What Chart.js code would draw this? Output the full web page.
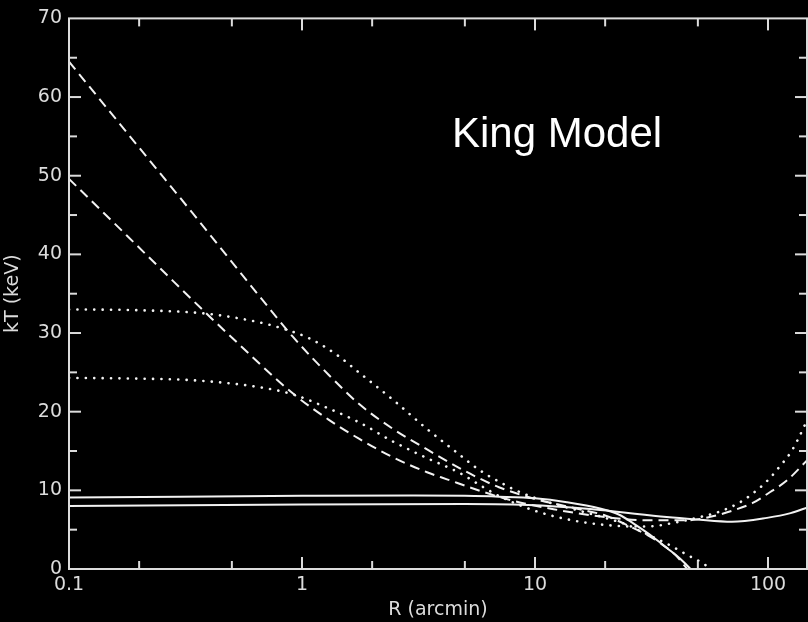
<!DOCTYPE html>
<html>
<head>
<meta charset="utf-8">
<script src="https://cdn.jsdelivr.net/npm/chart.js@4.4.1/dist/chart.umd.min.js"></script>
<style>
  html, body { margin: 0; padding: 0; background: #000; }
  #wrap { width: 808px; height: 622px; }
</style>
</head>
<body>
<div id="wrap"><canvas id="c" width="808" height="622"></canvas></div>
<script>
// Tick values (x is log R in arcmin, y is kT in keV)
const xTickLabels = [0.1, 1, 10, 100];
const xMinorTicks = [0.2, 0.5, 2, 5, 20, 50];
const yMajorTicks = [10, 20, 30, 40, 50, 60];
const yMinorTicks = [5, 15, 25, 35, 45, 55, 65];

// Solid pair
const solidHighR = [0.1, 0.3, 1, 3, 5, 7, 10, 13.7, 19, 23, 26.4, 32, 36.7, 42, 46.5];
const solidHighT = [9.1, 9.2, 9.3, 9.35, 9.3, 9.2, 9.0, 8.5, 7.7, 6.9, 5.8, 4.1, 2.7, 1.3, 0];
const solidLowR = [0.1, 1, 5, 10, 19, 36.7, 49, 70, 99, 125, 147];
const solidLowT = [8.0, 8.2, 8.25, 8.1, 7.5, 6.6, 6.3, 6.0, 6.5, 7.1, 7.8];

// Dashed pair
const dashHighR = [0.1, 0.177, 0.34, 0.66, 0.915, 1.3, 1.77, 2.46, 3.44, 4.76, 5.7, 7, 10, 15, 20, 25.6, 30, 34.4, 40, 45];
const dashHighT = [64.5, 55.5, 45.2, 34.6, 29.5, 24.7, 20.9, 17.8, 15.2, 12.8, 11.6, 10.4, 8.9, 7.7, 6.8, 5.4, 4.4, 3.3, 1.8, 0];
const dashLowR = [0.1, 0.177, 0.28, 0.376, 0.505, 0.915, 1.3, 1.77, 2.46, 3.44, 4.19, 6, 8, 12, 20, 30, 45, 56, 70, 86, 100, 121, 147];
const dashLowT = [49.6, 42.4, 36.6, 32.9, 29.3, 22.3, 19.0, 16.5, 14.2, 12.3, 11.4, 9.8, 8.7, 7.6, 6.6, 6.2, 6.2, 6.6, 7.4, 8.4, 9.6, 11.3, 13.8];

// Dotted pair
const dotHighR = [0.1, 0.2, 0.376, 0.6, 0.8, 1.08, 1.4, 1.77, 2.46, 3.44, 4.76, 5.7, 7.1, 8.9, 12, 16, 20, 25, 28, 33, 38, 45, 52, 57];
const dotHighT = [33, 32.9, 32.5, 31.6, 30.7, 29.3, 27.3, 24.9, 21.5, 17.8, 14.5, 12.7, 11.0, 9.6, 8.3, 7.3, 6.5, 5.6, 4.9, 3.9, 3.0, 1.8, 0.8, 0];
const dotLowR = [0.1, 0.2, 0.34, 0.66, 0.915, 1.28, 1.77, 2.46, 3.44, 4.76, 6, 7.1, 10, 15, 22, 30, 41.5, 51, 62, 75, 86, 100, 112, 125, 134, 147];
const dotLowT = [24.3, 24.2, 24.0, 23.1, 22.2, 20.5, 18.6, 16.2, 14.1, 12.2, 10.4, 9.2, 7.4, 6.1, 5.5, 5.4, 6.0, 6.6, 7.3, 8.4, 9.6, 11.3, 13.0, 14.8, 16.4, 18.9];

const LINE = '#f2f2f2';
const AXIS = '#dcdcdc';
const FONT = 'DejaVu Sans';

function pts(rs, ts) { return rs.map((r, i) => ({ x: r, y: ts[i] })); }

function series(rs, ts, style) {
  const ds = {
    data: pts(rs, ts),
    showLine: true,
    borderColor: LINE,
    borderWidth: 2,
    pointRadius: 0,
    cubicInterpolationMode: 'monotone',
    fill: false,
  };
  if (style === 'dash') { ds.borderDash = [10, 6]; }
  if (style === 'dot') { ds.borderDash = [0.1, 8.3]; ds.borderCapStyle = 'round'; ds.borderWidth = 2.6; }
  return ds;
}

// frame with inward ticks on all four sides
const frameTicks = {
  id: 'frameTicks',
  afterDatasetsDraw(chart) {
    const { ctx, chartArea: a, scales: { x, y } } = chart;
    ctx.save();
    ctx.strokeStyle = AXIS;
    ctx.lineWidth = 2;
    ctx.strokeRect(a.left, a.top, a.right - a.left, a.bottom - a.top);
    const seg = (x1, y1, x2, y2) => { ctx.beginPath(); ctx.moveTo(x1, y1); ctx.lineTo(x2, y2); ctx.stroke(); };
    const xt = (v, len) => { const p = x.getPixelForValue(v); seg(p, a.bottom, p, a.bottom - len); seg(p, a.top, p, a.top + len); };
    const yt = (v, len) => { const p = y.getPixelForValue(v); seg(a.left, p, a.left + len, p); seg(a.right, p, a.right - len, p); };
    xTickLabels.slice(1).forEach(v => xt(v, 12));
    xMinorTicks.forEach(v => xt(v, 8));
    yMajorTicks.forEach(v => yt(v, 12));
    yMinorTicks.forEach(v => yt(v, 8));
    ctx.fillStyle = '#ffffff';
    ctx.font = '42px "Liberation Sans", Arial, sans-serif';
    ctx.textBaseline = 'alphabetic';
    ctx.fillText('King Model', 452, 147);
    ctx.restore();
  }
};

new Chart(document.getElementById('c'), {
  type: 'scatter',
  data: {
    datasets: [
      series(solidHighR, solidHighT, 'solid'),
      series(solidLowR, solidLowT, 'solid'),
      series(dashHighR, dashHighT, 'dash'),
      series(dashLowR, dashLowT, 'dash'),
      series(dotHighR, dotHighT, 'dot'),
      series(dotLowR, dotLowT, 'dot'),
    ]
  },
  options: {
    responsive: false,
    animation: false,
    layout: { padding: { top: 17, right: 1, left: 0, bottom: 0 } },
    plugins: { legend: { display: false }, tooltip: { enabled: false } },
    scales: {
      x: {
        type: 'logarithmic',
        min: 0.1,
        max: 147,
        afterBuildTicks: s => { s.ticks = xTickLabels.map(v => ({ value: v })); },
        afterFit: s => { s.height = 53; },
        grid: { display: false, drawTicks: false },
        border: { display: false },
        ticks: {
          color: AXIS, padding: 5, maxRotation: 0, autoSkip: false,
          font: { family: FONT, size: 19 },
          callback: v => String(v),
        },
        title: {
          display: true, text: 'R (arcmin)', color: AXIS,
          font: { family: FONT, size: 19 }, padding: { top: 0, bottom: 1 },
        },
      },
      y: {
        min: 0,
        max: 70,
        afterBuildTicks: s => { s.ticks = [0, 10, 20, 30, 40, 50, 60, 70].map(v => ({ value: v })); },
        afterFit: s => { s.width = 69; },
        grid: { display: false, drawTicks: false },
        border: { display: false },
        ticks: {
          color: AXIS, padding: 7,
          font: { family: FONT, size: 19 },
        },
        title: {
          display: true, text: 'kT (keV)', color: AXIS,
          font: { family: FONT, size: 19 }, padding: { top: 2, bottom: 0 },
        },
      },
    },
  },
  plugins: [frameTicks],
});
</script>
</body>
</html>
